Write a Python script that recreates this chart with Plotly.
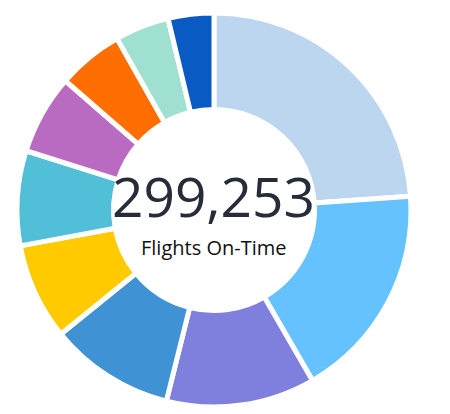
import plotly.graph_objects as go

carriers = ["Southwest", "Delta", "American", "SkyWest", "United",
            "Republic", "Alaska", "JetBlue", "Spirit", "Frontier"]
on_time = [71490, 53200, 36575, 30760, 23690, 23275, 19535, 16210, 13300, 11218]
colors = ["#BDD6EF", "#66C2FF", "#7F80DD", "#3F93D4", "#FFCA00",
          "#52BFD9", "#B86BC0", "#FF6E00", "#A0E0D1", "#0A5AC4"]
total_label = f"{sum(on_time):,}"
subtitle = "Flights On-Time"

W, H = 450, 414
OFF = 8  # page body margin


def px(x):
    return (x - OFF) / W


def py(y):
    return 1 - (y - OFF) / H


fig = go.Figure(go.Pie(
    labels=carriers,
    values=on_time,
    sort=False,
    direction="clockwise",
    rotation=0,
    hole=0.51,
    marker=dict(colors=colors, line=dict(color="white", width=5)),
    textinfo="none",
    hoverinfo="label+value",
    domain=dict(x=[px(17), px(411)], y=[py(407), py(13)]),
))

fig.add_annotation(text=total_label, x=px(213), y=py(195), xref="paper", yref="paper",
                   showarrow=False, font=dict(family="Open Sans", size=55, color="#262D38"))
fig.add_annotation(text=subtitle, x=px(213), y=py(247), xref="paper", yref="paper",
                   showarrow=False, font=dict(family="Open Sans", size=20, color="#111111"))

fig.update_layout(width=W, height=H, margin=dict(l=0, r=0, t=0, b=0),
                  showlegend=False, paper_bgcolor="white", plot_bgcolor="white")
fig.write_html("out.html")
